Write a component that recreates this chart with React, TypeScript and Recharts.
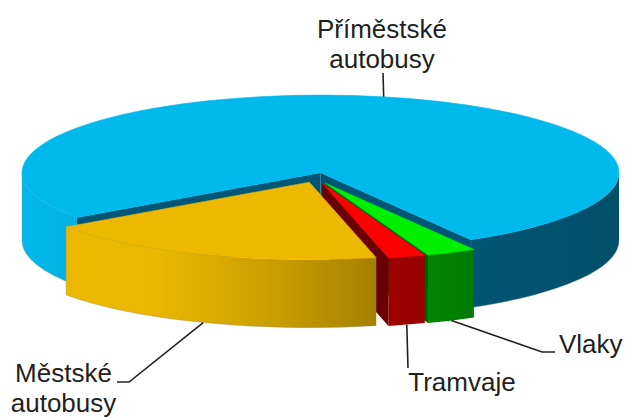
import { PieChart, Pie } from 'recharts';

const NAMES = ['Příměstské autobusy', 'Vlaky', 'Tramvaje', 'Městské autobusy'];
const SHARES = [76.4, 2.75, 2.05, 18.8];

const chartData = NAMES.map((name, i) => ({ name, value: SHARES[i] }));

const TILT = 0.26;
const DEPTH = 68;
const START_ANGLE = -144.7;

// look of each slice, the small slices sit a bit lower and are a bit smaller
const SLICE_STYLES: Record<string, any> = {
  'Příměstské autobusy': {
    top: '#00B9EC', cut: '#005674', dx: 0, dy: 0, radius: 298.5, x1: 22, x2: 620, edge: true,
    stops: [[0, '#00B9EC'], [0.08, '#00B2E4'], [0.15, '#00A8D8'], [0.6, '#005A78'], [1, '#004F6B']],
  },
  'Vlaky': {
    top: '#00EE00', cut: '#006000', dx: 5, dy: 10.6, radius: 294.5, x1: 428, x2: 474,
    stops: [[0, '#008800'], [1, '#007A00']],
  },
  'Tramvaje': {
    top: '#FF0000', cut: '#6A0000', dx: 1.8, dy: 10.6, radius: 294.5, x1: 390, x2: 426,
    stops: [[0, '#9E0000'], [1, '#960000']],
  },
  'Městské autobusy': {
    top: '#EDB900', cut: '#8A6A00', dx: -11.2, dy: 9.5, radius: 298, x1: 65, x2: 376, edge: true,
    stops: [[0, '#EDB900'], [0.3, '#EAB600'], [0.65, '#CBA000'], [1, '#A58000']],
  },
};

// text lines and the leader line bends for each callout
const CALLOUTS: Record<string, any> = {
  'Příměstské autobusy': { lines: ['Příměstské', 'autobusy'], x: 382, y: 38, onTop: true, bends: [[383, 73]] },
  'Vlaky': { lines: ['Vlaky'], x: 559, y: 353, anchor: 'start', bends: [[542, 352], [555, 352]] },
  'Tramvaje': { lines: ['Tramvaje'], x: 462, y: 391, bends: [[408, 368]] },
  'Městské autobusy': { lines: ['Městské', 'autobusy'], x: 63.5, y: 382, bends: [[129, 382], [117, 382]] },
};

const Slice3D = (props: any) => {
  const { cx, cy, startAngle, endAngle, name, index } = props;
  const s = SLICE_STYLES[name];
  const x0 = cx + s.dx;
  const y0 = cy + s.dy;
  const rx = s.radius;
  const ry = s.radius * TILT;
  const t1 = -startAngle;
  const t2 = -endAngle;
  const pt = (t: number, down = 0) => {
    const a = (t * Math.PI) / 180;
    return `${x0 + rx * Math.cos(a)} ${y0 + ry * Math.sin(a) + down}`;
  };
  const gradId = `wall-${index}`;

  // only the part of the rim that faces the viewer
  const walls: string[] = [];
  const edges: string[] = [];
  [0, 360].forEach((k) => {
    const a = Math.max(t1, k);
    const b = Math.min(t2, k + 180);
    if (b > a) {
      walls.push(
        `M ${pt(a)} A ${rx} ${ry} 0 0 1 ${pt(b)} L ${pt(b, DEPTH)} A ${rx} ${ry} 0 0 0 ${pt(a, DEPTH)} Z`
      );
      edges.push(`M ${pt(b)} L ${pt(b, DEPTH)} A ${rx} ${ry} 0 0 0 ${pt(a, DEPTH)}`);
    }
  });

  const cutFace = (t: number) =>
    `M ${x0} ${y0} L ${pt(t)} L ${pt(t, DEPTH)} L ${x0} ${y0 + DEPTH} Z`;
  const startVisible = Math.cos((t1 * Math.PI) / 180) < 0;
  const endVisible = Math.cos((t2 * Math.PI) / 180) > 0;
  const large = t2 - t1 > 180 ? 1 : 0;

  return (
    <g>
      <defs>
        <linearGradient id={gradId} gradientUnits="userSpaceOnUse" x1={s.x1} x2={s.x2} y1={0} y2={0}>
          {s.stops.map((st: any, i: number) => (
            <stop key={i} offset={st[0]} stopColor={st[1]} />
          ))}
        </linearGradient>
      </defs>
      {walls.map((d, i) => (
        <path key={i} d={d} fill={`url(#${gradId})`} stroke="none" />
      ))}
      {s.edge &&
        edges.map((d, i) => (
          <path key={i} d={d} fill="none" stroke="#8C8C8C" strokeOpacity={0.45} strokeWidth={0.8} />
        ))}
      {startVisible && <path d={cutFace(t1)} fill={s.cut} />}
      {endVisible && <path d={cutFace(t2)} fill={s.cut} />}
      {/* thin stroke in the same colour hides the seam against the wall */}
      <path
        d={`M ${x0} ${y0} L ${pt(t1)} A ${rx} ${ry} 0 ${large} 1 ${pt(t2)} Z`}
        fill={s.top}
        stroke={s.top}
        strokeWidth={0.6}
      />
    </g>
  );
};

const Callout = (props: any) => {
  const { cx, cy, midAngle, name } = props;
  const s = SLICE_STYLES[name];
  const c = CALLOUTS[name];
  const a = (midAngle * Math.PI) / 180;
  const sx = cx + s.dx + s.radius * Math.cos(a);
  const sy = cy + s.dy - s.radius * TILT * Math.sin(a) + (c.onTop ? 0 : DEPTH);
  const points = [[sx, sy], ...c.bends].map((p) => p.join(',')).join(' ');
  return (
    <g>
      <polyline points={points} fill="none" stroke="#231F20" strokeWidth={1.6} />
      <text
        x={c.x}
        y={c.y}
        textAnchor={c.anchor ?? 'middle'}
        fontFamily="Liberation Sans, Arial, sans-serif"
        fontSize={26}
        fill="#231F20"
      >
        {c.lines.map((line: string, i: number) => (
          <tspan key={i} x={c.x} dy={i === 0 ? 0 : 30}>
            {line}
          </tspan>
        ))}
      </text>
    </g>
  );
};

export default function App() {
  return (
    <div style={{ position: 'absolute', left: 0, top: 0, width: 625, height: 417, background: '#fff' }}>
      <PieChart width={625} height={417} margin={{ top: 0, right: 0, bottom: 0, left: 0 }}>
        <Pie
          data={chartData}
          dataKey="value"
          nameKey="name"
          cx={320.5}
          cy={172.7}
          outerRadius={298.5}
          startAngle={START_ANGLE}
          endAngle={START_ANGLE - 360}
          stroke="none"
          shape={Slice3D}
          label={Callout}
          labelLine={false}
          isAnimationActive={false}
        />
      </PieChart>
    </div>
  );
}
